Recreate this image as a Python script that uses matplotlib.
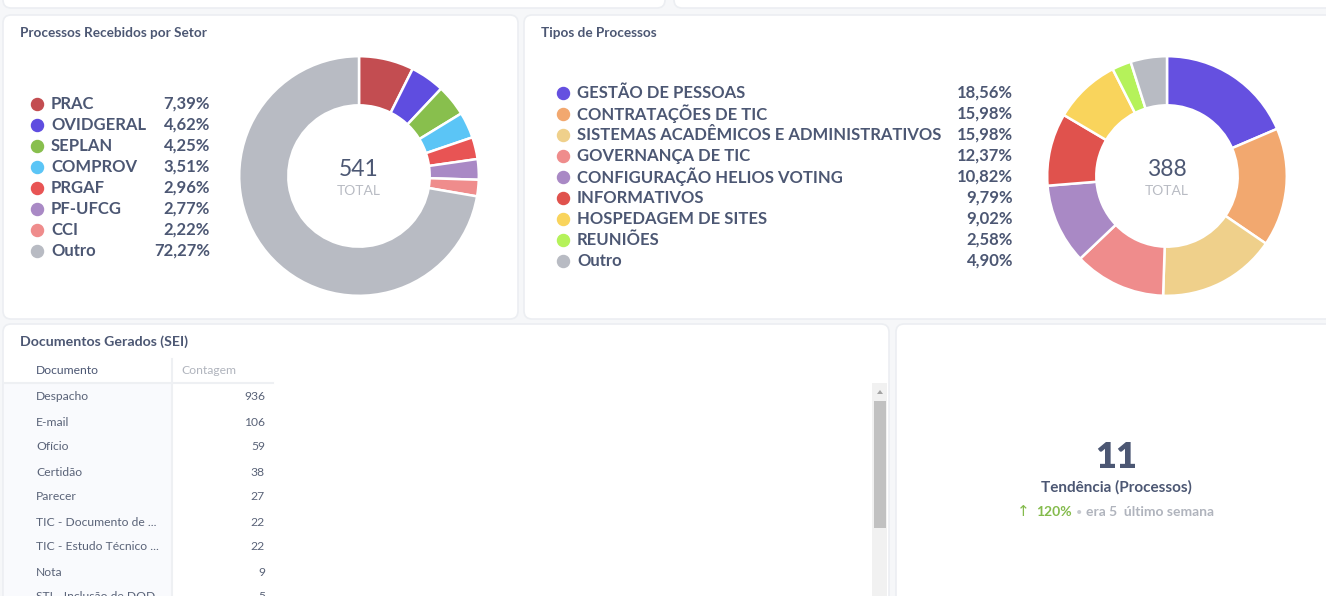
import matplotlib.pyplot as plt
from matplotlib.patches import FancyBboxPatch, Rectangle, Polygon

plt.rcParams['font.family'] = ['Lato', 'DejaVu Sans']

# Processos Recebidos por Setor
setores = ['PRAC', 'OVIDGERAL', 'SEPLAN', 'COMPROV', 'PRGAF', 'PF-UFCG', 'CCI', 'Outro']
setores_pct = [7.39, 4.62, 4.25, 3.51, 2.96, 2.77, 2.22, 72.27]
setores_cores = ['#c34d51', '#5f4de0', '#88bf4d', '#5bc5f6', '#e85454', '#a989c5', '#ef8c8c', '#b8bbc3']
setores_total = 541

# Tipos de Processos
tipos = ['GESTÃO DE PESSOAS', 'CONTRATAÇÕES DE TIC', 'SISTEMAS ACADÊMICOS E ADMINISTRATIVOS',
         'GOVERNANÇA DE TIC', 'CONFIGURAÇÃO HELIOS VOTING', 'INFORMATIVOS',
         'HOSPEDAGEM DE SITES', 'REUNIÕES', 'Outro']
tipos_pct = [18.56, 15.98, 15.98, 12.37, 10.82, 9.79, 9.02, 2.58, 4.90]
tipos_cores = ['#6550e0', '#f2a86f', '#efd08b', '#ef8c8c', '#a989c5', '#e0524d', '#f9d45c', '#b5f25a', '#b8bbc3']
tipos_total = 388

# Documentos Gerados (SEI)
documentos = ['Despacho', 'E-mail', 'Ofício', 'Certidão', 'Parecer', 'TIC - Documento de ...',
              'TIC - Estudo Técnico ...', 'Nota', 'STI - Inclusão de DOD ...']
contagem = [936, 106, 59, 38, 27, 22, 22, 9, 5]

# Tendência
tend_valor = 11
tend_pct = '120%'
tend_antes = 5

W, H = 1326, 596
fig = plt.figure(figsize=(W / 100, H / 100), dpi=100)
fig.patch.set_facecolor('#f6f7f9')
bg = fig.add_axes([0, 0, 1, 1])
bg.set_xlim(0, W)
bg.set_ylim(H, 0)
bg.axis('off')

dark = '#4c5773'
light = '#b0b4bd'


def card(x0, y0, x1, y1):
    bg.add_patch(FancyBboxPatch((x0, y0), x1 - x0, y1 - y0,
                                boxstyle='round,pad=0,rounding_size=8',
                                fc='white', ec='#eceef2', lw=1.2))


card(3, -20, 665, 8)
card(674, -20, 1340, 8)
card(3, 15, 518, 319)
card(524, 15, 1340, 319)
card(3, 324, 889, 620)
card(896, 324, 1340, 620)

bg.text(20, 33, 'Processos Recebidos por Setor', fontsize=9.8, color=dark, va='center',
        fontweight='bold')
bg.text(541, 33, 'Tipos de Processos', fontsize=9.8, color=dark, va='center',
        fontweight='bold')
bg.text(20, 342, 'Documentos Gerados (SEI)', fontsize=10.2, color=dark, va='center',
        fontweight='bold')


def donut(cx, cy, vals, cores, total):
    r = 121
    ax = fig.add_axes([(cx - r) / W, 1 - (cy + r) / H, 2 * r / W, 2 * r / H])
    ax.pie(vals, colors=cores, startangle=90, counterclock=False, radius=1,
           wedgeprops=dict(width=0.41, edgecolor='white', linewidth=1.8))
    ax.set_xlim(-1.01, 1.01)
    ax.set_ylim(-1.01, 1.01)
    ax.set_aspect('equal')
    ax.axis('off')
    bg.text(cx, cy - 7, str(total), fontsize=16.5, color=dark, ha='center', va='center')
    bg.text(cx, cy + 15, 'TOTAL', fontsize=10, color='#b8bbc3', ha='center', va='center')


donut(359, 176, setores_pct, setores_cores, setores_total)
donut(1167, 176, tipos_pct, tipos_cores, tipos_total)


def legenda(x_dot, x_pct, y0, nomes, pcts, cores):
    for i, (n, p, c) in enumerate(zip(nomes, pcts, cores)):
        y = y0 + i * 21
        bg.scatter([x_dot], [y], s=75, color=c, zorder=3)
        bg.text(x_dot + 14, y, n, fontsize=12, color=dark, va='center', fontweight='bold')
        bg.text(x_pct, y, f'{p:.2f}%'.replace('.', ','), fontsize=12, color=dark,
                va='center', ha='right', fontweight='bold')


legenda(37, 210, 104, setores, setores_pct, setores_cores)
legenda(563, 1013, 93, tipos, tipos_pct, tipos_cores)

# tabela
bg.add_patch(Rectangle((4, 383), 168, 220, fc='#f9fafd', ec='none', zorder=1))
bg.plot([4, 273], [383, 383], color='#eef0f3', lw=1.5, zorder=2)
bg.plot([172, 172], [359, 600], color='#eef0f3', lw=1.5, zorder=2)
bg.text(36, 370, 'Documento', fontsize=8.7, color=dark, va='center')
bg.text(181, 371, 'Contagem', fontsize=8.7, color=light, va='center')
for i, (d, n) in enumerate(zip(documentos, contagem)):
    y = 397 + i * 25
    bg.text(36, y, d, fontsize=8.7, color='#5a6378', va='center', zorder=3)
    bg.text(265, y, str(n), fontsize=8.7, color='#5a6378', va='center', ha='right', zorder=3)

# barra de rolagem
bg.add_patch(Rectangle((872, 383), 15, 220, fc='#f1f1f1', ec='none'))
bg.add_patch(Rectangle((874, 401), 12, 127, fc='#c1c1c1', ec='none'))
bg.add_patch(Polygon([[877, 394], [883, 394], [880, 390]], closed=True, fc='#a3a3a3', ec='none'))

# tendência
bg.text(1116, 457, str(tend_valor), fontsize=26, color=dark, ha='center', va='center',
        fontweight='heavy')
bg.text(1116, 487, 'Tendência (Processos)', fontsize=11, color=dark, ha='center', va='center',
        fontweight='bold')
bg.text(1017, 512, '↑', fontsize=11, color='#84bb4c', va='center', family=['DejaVu Sans'])
bg.text(1036, 512, tend_pct, fontsize=10, color='#84bb4c', va='center', fontweight='bold')
bg.text(1076, 512, '•', fontsize=8, color='#c8cbd1', va='center')
bg.text(1086, 512, f'era {tend_antes}  último semana', fontsize=10, color=light, va='center',
        fontweight='bold')

fig.savefig('out.png', dpi=100, facecolor=fig.get_facecolor())
